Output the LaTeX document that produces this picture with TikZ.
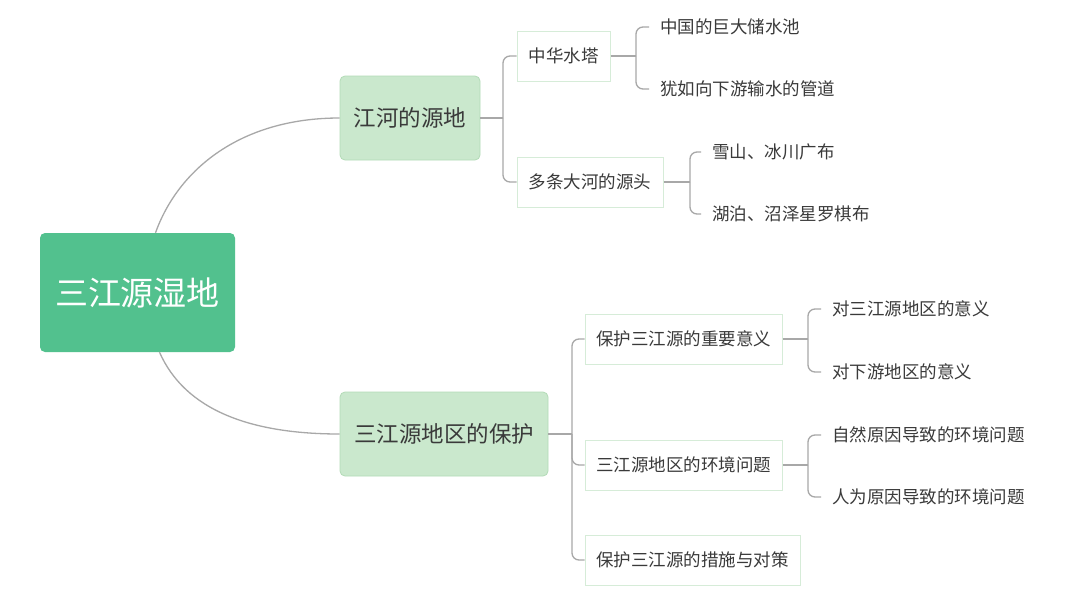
\documentclass[tikz,border=0pt]{standalone}
\usepackage{fontspec}
\setmainfont{Noto Sans CJK SC}
\definecolor{rootfill}{HTML}{52C18E}
\definecolor{brfill}{HTML}{CAE8CD}
\definecolor{brdraw}{HTML}{B3DBB7}
\definecolor{chdraw}{HTML}{D6ECD8}
\definecolor{linec}{HTML}{A8A8A8}
\definecolor{txt}{HTML}{3A3A3A}
\begin{document}
\begin{tikzpicture}[x=1pt,y=-1pt,
  rootbox/.style={rounded corners=5pt,fill=rootfill,text=white,inner sep=0pt,
    font=\fontsize{33}{38}\selectfont},
  brbox/.style={rounded corners=5pt,fill=brfill,draw=brdraw,line width=0.8pt,text=txt,inner sep=0pt,
    minimum height=84pt,font=\fontsize{22.5}{26}\selectfont},
  chbox/.style={fill=white,draw=chdraw,line width=1pt,text=txt,inner sep=0pt,
    minimum height=50pt,font=\fontsize{17.5}{20}\selectfont},
  leaf/.style={anchor=west,text=txt,inner xsep=11pt,inner ysep=0pt,font=\fontsize{17.5}{20}\selectfont},
  conn/.style={draw=linec,line width=1.3pt},
  elbow/.style={conn,rounded corners=7pt}]
\useasboundingbox (0,0) rectangle (1080,608);
\fill[white] (0,0) rectangle (1080,608);
% root
\node[rootbox,minimum width=195pt,minimum height=119pt] (root) at (137.5,292.5) {三江源湿地};
% branches
\node[brbox,minimum width=140pt] (b1) at (410,118) {江河的源地};
\node[brbox,minimum width=208pt] (b2) at (444,434) {三江源地区的保护};
% children of b1
\node[chbox,minimum width=93pt] (c11) at (563.5,56) {中华水塔};
\node[chbox,minimum width=146pt] (c12) at (590,182) {多条大河的源头};
% children of b2
\node[chbox,minimum width=197pt] (c21) at (683.5,339) {保护三江源的重要意义};
\node[chbox,minimum width=197pt] (c22) at (683.5,465) {三江源地区的环境问题};
\node[chbox,minimum width=215pt] (c23) at (692.5,560) {保护三江源的措施与对策};
% leaves
\node[leaf] (l111) at (649,27) {中国的巨大储水池};
\node[leaf] (l112) at (649,89) {犹如向下游输水的管道};
\node[leaf] (l121) at (701,152) {雪山、冰川广布};
\node[leaf] (l122) at (701,214) {湖泊、沼泽星罗棋布};
\node[leaf] (l211) at (821,309) {对三江源地区的意义};
\node[leaf] (l212) at (821,372) {对下游地区的意义};
\node[leaf] (l221) at (821,435) {自然原因导致的环境问题};
\node[leaf] (l222) at (821,497) {人为原因导致的环境问题};
% junction coordinates
\coordinate (j1) at (503,118);
\coordinate (j11) at (636,56);
\coordinate (j12) at (690,182);
\coordinate (j2) at (572,434);
\coordinate (j21) at (808,339);
\coordinate (j22) at (808,465);
% root connectors
\draw[conn] ([xshift=18pt]root.north) .. controls (178,170) and (240,118) .. (b1.west);
\draw[conn] ([xshift=22pt]root.south) .. controls (185,410) and (250,434) .. (b2.west);
% b1
\draw[conn] (b1.east) -- (j1);
\draw[elbow] (j1) |- (c11.west);
\draw[elbow] (j1) |- (c12.west);
\draw[conn] (c11.east) -- (j11);
\draw[elbow] (j11) |- (l111.west);
\draw[elbow] (j11) |- (l112.west);
\draw[conn] (c12.east) -- (j12);
\draw[elbow] (j12) |- (l121.west);
\draw[elbow] (j12) |- (l122.west);
% b2
\draw[conn] (b2.east) -- (j2);
\draw[elbow] (j2) |- (c21.west);
\draw[elbow] (j2) |- (c22.west);
\draw[elbow] (j2) |- (c23.west);
\draw[conn] (c21.east) -- (j21);
\draw[elbow] (j21) |- (l211.west);
\draw[elbow] (j21) |- (l212.west);
\draw[conn] (c22.east) -- (j22);
\draw[elbow] (j22) |- (l221.west);
\draw[elbow] (j22) |- (l222.west);
\end{tikzpicture}
\end{document}
